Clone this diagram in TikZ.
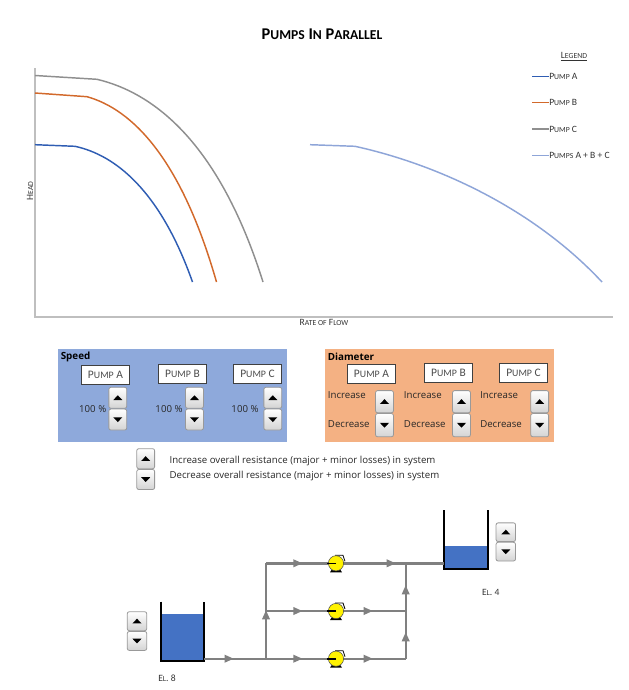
\documentclass[tikz,border=0pt]{standalone}
\usepackage{fontspec}
\setmainfont{Open Sans}
\newfontfamily\capsfont{Carlito}
\usetikzlibrary{positioning,calc}
\usetikzlibrary{arrows.meta}
\usetikzlibrary{decorations.markings}
\definecolor{speedblue}{HTML}{8EA9DB}
\definecolor{diamorange}{HTML}{F4B183}
\definecolor{waterblue}{HTML}{4472C4}
\definecolor{pipegray}{HTML}{808080}
\definecolor{axisgray}{HTML}{BFBFBF}
\definecolor{curvea}{HTML}{2F5DB3}
\definecolor{curveb}{HTML}{D2692B}
\definecolor{curvec}{HTML}{8F8F8F}
\definecolor{curvesum}{HTML}{8EA5D8}
% capital plus smaller capitals
\newcommand{\capw}[2]{#1{\fontsize{\capsize}{\capsize}\selectfont #2}}
\tikzset{
  spinbtn/.style={draw=black!40, rounded corners=1.5pt, line width=0.6pt,
    top color=white, bottom color=black!17, minimum width=13.4pt,
    minimum height=15.7pt, inner sep=0pt},
  spinup/.style={spinbtn, path picture={
    \fill[sharp corners] ($(path picture bounding box.center)+(-3.4pt,-1.7pt)$) -- ++(6.8pt,0) -- ++(-3.4pt,3.6pt) -- cycle;}},
  spindown/.style={spinbtn, path picture={
    \fill[sharp corners] ($(path picture bounding box.center)+(-3.4pt,1.7pt)$) -- ++(6.8pt,0) -- ++(-3.4pt,-3.6pt) -- cycle;}},
  pumpbox/.style={draw=black!75, fill=white, line width=0.7pt, minimum width=36pt,
    minimum height=14pt, inner sep=0pt, text=black!70,
    font=\capsfont\fontsize{8.6}{10}\selectfont\def\capsize{7.4}},
  uitext/.style={font=\fontsize{7.24}{9}\selectfont, text=black!85, inner sep=0pt},
  boldtext/.style={font=\bfseries\fontsize{7.4}{9}\selectfont, text=black, inner sep=0pt, anchor=west},
  captext/.style={font=\capsfont\fontsize{7.2}{8}\selectfont\def\capsize{5.8}, text=black!80, inner sep=0pt},
  tankwall/.style={line width=1.6pt, black},
  pipe/.style={line width=1.8pt, pipegray},
  flowmark/.style={postaction={decorate}, decoration={markings,
    mark=at position #1 with {\arrow[pipegray]{Triangle[length=7pt,width=5.5pt]}}}},
  curve/.style={line width=1.1pt},
  pumpbody/.style={circle, draw=black!70, fill=yellow, line width=0.4pt,
    minimum size=11.4pt, inner sep=0pt},
}
\begin{document}
\begin{tikzpicture}[x=0.75pt, y=-0.75pt]
  \useasboundingbox (0,0) rectangle (629,690);

  \node[font=\capsfont\bfseries\fontsize{12.3}{16}\selectfont\def\capsize{10.2}] (title) at (322,34)
    {\capw{P}{UMPS} \capw{I}{N} \capw{P}{ARALLEL}};

  % chart
  \draw[axisgray, line width=0.9pt] (35,68) -- (35,317) -- (613,317);
  \draw[curve, curvec] (35,75.5) -- (97,79.3) .. controls (153.4,92.7) and (219,142) .. (263,282);
  \draw[curve, curveb] (35,93) -- (87,96.7) .. controls (131,109) and (180.6,156.4) .. (216.5,282);
  \draw[curve, curvea] (35,144.7) -- (75,146.3) .. controls (115,155) and (160,190) .. (192.5,282);
  \draw[curve, curvesum] (310,144.7) -- (355,146.3) .. controls (440,165) and (535,210) .. (602,282);
  \node[captext, rotate=90] (head) at (30,191) {\capw{H}{EAD}};
  \node[captext] (flow) at (324,322) {\capw{R}{ATE OF} \capw{F}{LOW}};

  % legend
  \node[captext] (legend) at (574,57) {\underline{\capw{L}{EGEND}}};
  \node[captext, anchor=west] (lga) at (549,76.3) {\capw{P}{UMP} A};
  \node[captext, anchor=west] (lgb) at (549,102.7) {\capw{P}{UMP} B};
  \node[captext, anchor=west] (lgc) at (549,129) {\capw{P}{UMP} C};
  \node[captext, anchor=west] (lgs) at (549,155.7) {\capw{P}{UMPS} A + B + C};
  \draw[curvea, line width=1.1pt] (lga.west) -- ++(-17,0);
  \draw[curveb, line width=1.1pt] (lgb.west) -- ++(-17,0);
  \draw[curvec, line width=1.1pt] (lgc.west) -- ++(-17,0);
  \draw[curvesum, line width=1.1pt] (lgs.west) -- ++(-17,0);

  % speed panel
  \fill[speedblue] (58,349.3) rectangle (287.3,441.7);
  \node[boldtext] (sp) at (60.5,357) {Speed};
  \node[pumpbox] (sa) at (105.5,374.7) {\capw{P}{UMP} A};
  \node[pumpbox] (sb) at (182.5,373.8) {\capw{P}{UMP} B};
  \node[pumpbox] (sc) at (257.5,373.8) {\capw{P}{UMP} C};
  \node[spinup] (sa1) at (117.8,397.8) {};
  \node[spindown, below=0pt of sa1] (sa2) {};
  \node[spinup] (sb1) at (194.5,397.8) {};
  \node[spindown, below=0pt of sb1] (sb2) {};
  \node[spinup] (sc1) at (272.8,397.8) {};
  \node[spindown, below=0pt of sc1] (sc2) {};
  \node[uitext] (sap) at (92.7,409.3) {100 \%};
  \node[uitext] (sbp) at (169,409.3) {100 \%};
  \node[uitext] (scp) at (245,409.3) {100 \%};

  % diameter panel
  \fill[diamorange] (325,349.3) rectangle (554.3,441.7);
  \node[boldtext] (di) at (327.5,357) {Diameter};
  \node[pumpbox] (da) at (371.5,373.8) {\capw{P}{UMP} A};
  \node[pumpbox] (db) at (448.5,372.8) {\capw{P}{UMP} B};
  \node[pumpbox] (dc) at (523.5,372.8) {\capw{P}{UMP} C};
  \node[spinup, minimum height=16.6pt] (da1) at (384.5,401.7) {};
  \node[spindown, minimum height=17.4pt, below=0pt of da1] (da2) {};
  \node[spinup, minimum height=16.6pt] (db1) at (461.5,401.7) {};
  \node[spindown, minimum height=17.4pt, below=0pt of db1] (db2) {};
  \node[spinup, minimum height=16.6pt] (dc1) at (539.7,401.7) {};
  \node[spindown, minimum height=17.4pt, below=0pt of dc1] (dc2) {};
  \node[uitext, anchor=west] (dai) at (327.7,395) {Increase};
  \node[uitext, anchor=west] (dad) at (327.7,423.7) {Decrease};
  \node[uitext, anchor=west] (dbi) at (403.7,395) {Increase};
  \node[uitext, anchor=west] (dbd) at (403.7,423.7) {Decrease};
  \node[uitext, anchor=west] (dci) at (480,395) {Increase};
  \node[uitext, anchor=west] (dcd) at (480,423.7) {Decrease};

  % resistance
  \node[spinup, minimum height=15pt] (r1) at (145.7,458.7) {};
  \node[spindown, minimum height=15pt, below=0pt of r1] (r2) {};
  \node[uitext, anchor=west] (rup) at (169.3,461.3) {Increase overall resistance (major + minor losses) in system};
  \node[uitext, anchor=west] (rdn) at (169.3,475.6) {Decrease overall resistance (major + minor losses) in system};

  % tanks
  \fill[waterblue] (162,614) rectangle (204,660);
  \draw[tankwall] (160.7,601.7) -- (160.7,661.3) -- (204.3,661.3) -- (204.3,601.7);
  \fill[waterblue] (445,546) rectangle (487,568);
  \draw[tankwall] (443.7,510) -- (443.7,569.3) -- (487.7,569.3) -- (487.7,510);
  \coordinate (t1) at (204.3,658.7);
  \coordinate (t2) at (443.7,563.3);
  \node[captext] (el8) at (167,678) {\capw{E}{L}. 8};
  \node[captext] (el4) at (490.7,592) {\capw{E}{L}. 4};
  \node[spinup, minimum width=14.6pt, minimum height=14.2pt] (t1u) at (137,621.2) {};
  \node[spindown, minimum width=14.6pt, minimum height=14.2pt, below=0pt of t1u] (t1d) {};
  \node[spinup, minimum width=14.6pt, minimum height=14pt] (t2u) at (505.8,532.2) {};
  \node[spindown, minimum width=14.6pt, minimum height=14pt, below=0pt of t2u] (t2d) {};

  % pipes
  \coordinate (j1) at (266,658.7);
  \coordinate (j2) at (266,611);
  \coordinate (j3) at (266,563.3);
  \coordinate (k1) at (405.7,658.7);
  \coordinate (k2) at (405.7,611);
  \coordinate (k3) at (405.7,563.3);
  \coordinate (p1) at (336,658.7);
  \coordinate (p2) at (336,611);
  \coordinate (p3) at (336,563.3);
  \draw[pipe, flowmark=0.48] (t1) -- (j1);
  \draw[pipe, flowmark=0.51] (j1) -- (j3);
  \draw[pipe, flowmark=0.524] (j1) -- (p1);
  \draw[pipe, flowmark=0.524] (j2) -- (p2);
  \draw[pipe, flowmark=0.524] (j3) -- (p3);
  \draw[pipe, flowmark=0.53] (p1) -- (k1);
  \draw[pipe, flowmark=0.53] (p2) -- (k2);
  \draw[pipe, flowmark=0.56] (k1) -- (k2);
  \draw[pipe, flowmark=0.545] (k2) -- (k3);
  \draw[pipe, flowmark=0.557] (p3) -- (t2);

  % pumps
  \foreach \i in {1,2,3}{
    \fill[black] ($(p\i)+(-4,6)$) -- ($(p\i)+(4,6)$) -- ($(p\i)+(6,9)$) -- ($(p\i)+(-6,9)$) -- cycle;
    \draw[black, line width=0.6pt] ($(p\i)+(-1,-8)$) -- ($(p\i)+(7,-8)$) -- ($(p\i)+(9,-2)$);
    \node[pumpbody] (pu\i) at (p\i) {};
    \draw[black, line width=1.2pt] (pu\i.center) -- ($(p\i)+(-9,0)$);
  }
\end{tikzpicture}
\end{document}
